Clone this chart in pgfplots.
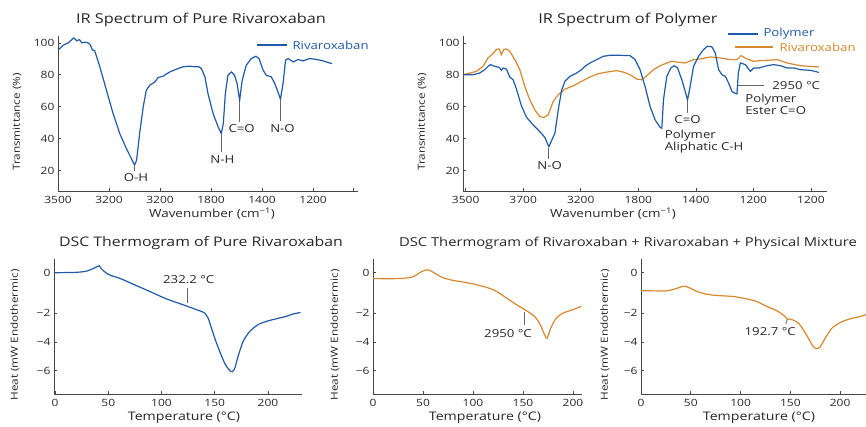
\documentclass[border=0pt]{standalone}
\usepackage{pgfplots}
\pgfplotsset{compat=1.18}
\usepackage{fontspec}
\setmainfont{Open Sans}[FakeStretch=1.2]
\definecolor{cblue}{RGB}{31,90,168}
\definecolor{corange}{RGB}{214,136,46}
\definecolor{axgray}{RGB}{70,70,70}
\tikzset{annline/.style={black!60, line width=0.8pt},
  ann/.style={font=\fontsize{11}{11.5}\selectfont, text=black!85}}
\pgfplotsset{
  base/.style={scale only axis, anchor=south west,
    axis x line*=bottom, axis y line*=left,
    axis line style={axgray, line width=0.7pt, -},
    tick style={axgray, line width=0.6pt},
    major tick length=3pt, tick align=inside,
    ticklabel style={font=\fontsize{10}{12}\selectfont, text=black!85},
    xticklabel style={yshift=-2pt},
    xtick pos=bottom, ytick pos=left},
  ir/.style={base, height=155pt, ymin=7.2, ymax=104.3,
    ytick={20,40,60,80,100}, yticklabels={20,40,60,80,100}},
  dsc/.style={base, height=135pt,
    y coord trafo/.code={\pgfmathparse{##1+0.4*max(##1+2,0)}},
    y coord inv trafo/.code={\pgfmathparse{##1-(0.4/1.4)*max(##1+2,0)}},
    ymin=-7.62, ymax=0.68,
    ytick={0,-2,-4,-6}, yticklabels={0,−2,−4,−6},
    xtick={0,50,100,150,200}, xticklabels={0,50,100,150,200}},
}
\newcommand{\ttl}{\fontsize{13.6}{16}\selectfont}
\newcommand{\xlab}{\fontsize{11.2}{13}\selectfont}
\newcommand{\tlab}{\fontsize{11.8}{13}\selectfont}
\newcommand{\ylab}{\fontsize{9.8}{11}\selectfont}
\newcommand{\lgd}{\fontsize{11}{12}\selectfont}
\begin{document}
\begin{tikzpicture}
\path[use as bounding box] (0pt,0pt) rectangle (866pt,426pt);

% ---------- Panel 1: IR pure ----------
\begin{axis}[ir, at={(58pt,235pt)}, width=300pt, xmin=0, xmax=5.88,
  xtick={0,1,2,3,4,5,5.78}, xticklabels={3500,3200,3200,1800,1400,1200,{}}]
\addplot[cblue, line width=1.2pt] coordinates {
(0,95.4)(0.1,98.5)(0.2,100)(0.26,101.7)(0.31,103.1)(0.37,101.3)(0.42,102)(0.47,100)(0.52,100.4)(0.59,100)(0.63,99)(0.67,95.8)(0.72,95)(0.82,85)(0.95,70.3)(1.08,55.7)(1.21,43.2)(1.34,33.8)(1.47,25.4)(1.50,23.5)(1.54,26.4)(1.6,43.2)(1.67,59.9)(1.73,70.3)(1.8,73.5)(1.9,75.5)(1.96,78.3)(2.06,79.1)(2.19,81.8)(2.32,83.5)(2.45,85)(2.58,85.4)(2.68,85)(2.76,85)(2.81,83.9)(2.88,78.7)(2.94,68.2)(3.04,55.7)(3.14,47.3)(3.2,43.2)(3.24,49.4)(3.28,68.2)(3.33,79.7)(3.4,81.8)(3.46,79.7)(3.51,74.5)(3.56,64)(3.61,76.6)(3.69,86)(3.79,90.2)(3.88,91.6)(3.94,90.2)(4.02,82.9)(4.08,79.7)(4.18,78.7)(4.25,74.5)(4.31,69.3)(4.36,64.7)(4.41,74.5)(4.46,89.1)(4.51,90.2)(4.61,88.1)(4.71,89.6)(4.8,88.7)(4.93,90.2)(5.07,89.6)(5.2,88.7)(5.29,87.7)(5.37,87)
};
\draw[annline] (axis cs:1.5,23) -- (axis cs:1.5,19.5);
\node[ann] at (axis cs:1.53,15.5) {O-H};
\draw[annline] (axis cs:3.2,42) -- (axis cs:3.2,31.5);
\node[ann] at (axis cs:3.22,27) {N-H};
\draw[annline] (axis cs:3.56,63) -- (axis cs:3.56,50.5);
\node[ann] at (axis cs:3.6,46) {C=O};
\draw[annline] (axis cs:4.36,63.5) -- (axis cs:4.36,51);
\node[ann] at (axis cs:4.4,46.5) {N-O};
\end{axis}

% ---------- Panel 2: IR polymer ----------
\begin{axis}[ir, at={(463pt,235pt)}, width=364pt, xmin=-0.046, xmax=6.28,
  xtick={0,1,2,3,4,5,6}, xticklabels={3500,3700,3200,1800,1400,1200,1200}]
\addplot[corange, line width=1.2pt] coordinates {
(-0.046,80.05)(0.186,82.15)(0.302,85.3)(0.389,90.55)(0.476,93.3)(0.534,95.8)(0.581,96.2)(0.621,92.65)(0.662,95.8)(0.709,96.2)(0.767,94.75)(0.854,89.5)(0.941,83.2)(1.028,72.7)(1.115,64.3)(1.202,58.0)(1.289,53.8)(1.359,53.2)(1.434,54.9)(1.521,63.3)(1.609,67.5)(1.725,71.0)(1.870,73.1)(2.015,75.9)(2.160,78.6)(2.305,80.7)(2.451,81.7)(2.625,82.6)(2.741,81.7)(2.857,80.05)(2.973,77.3)(3.060,76.9)(3.148,79.4)(3.264,83.2)(3.380,85.7)(3.496,87.4)(3.583,88.5)(3.699,87.8)(3.815,87.4)(3.961,89.5)(4.077,89.9)(4.251,91.2)(4.425,90.55)(4.599,89.5)(4.715,89.5)(4.785,92.0)(4.890,89.9)(5.006,88.45)(5.122,88.9)(5.238,89.1)(5.412,89.5)(5.587,87.4)(5.819,85.7)(6.138,84.9)
};
\addplot[cblue, line width=1.2pt] coordinates {
(-0.046,80.05)(0.128,80.05)(0.244,81.1)(0.331,83.2)(0.389,85.3)(0.430,86.35)(0.505,85.3)(0.581,84.7)(0.621,82.8)(0.650,84.25)(0.709,83.6)(0.767,78.6)(0.825,76.9)(0.883,71.0)(0.970,60.5)(1.057,53.4)(1.173,48.6)(1.289,44.4)(1.376,40.8)(1.446,34.9)(1.492,38.7)(1.551,43.3)(1.609,58.0)(1.667,70.2)(1.725,75.9)(1.812,79.0)(1.928,81.1)(2.015,83.2)(2.073,85.3)(2.160,87.4)(2.276,89.5)(2.393,91.6)(2.509,92.2)(2.683,92.2)(2.857,92.0)(2.944,89.5)(3.031,83.2)(3.118,72.7)(3.206,60.1)(3.293,51.7)(3.380,47.1)(3.409,46.5)(3.438,64.3)(3.496,79.0)(3.566,84.3)(3.624,85.7)(3.682,84.3)(3.757,76.9)(3.815,69.6)(3.856,64.3)(3.891,70.6)(3.961,85.3)(4.048,91.6)(4.135,95.8)(4.204,97.9)(4.280,97.5)(4.338,93.7)(4.396,83.2)(4.454,80.05)(4.512,79.0)(4.570,74.8)(4.628,69.6)(4.675,68.5)(4.715,68.1)(4.739,81.1)(4.774,87.4)(4.861,86.35)(4.948,82.15)(5.006,84.25)(5.093,84.25)(5.238,85.7)(5.354,86.35)(5.470,85.7)(5.587,84.25)(5.703,84.25)(5.819,83.2)(5.993,82.8)(6.138,81.5)
};
\draw[annline] (axis cs:1.446,34) -- (axis cs:1.446,27);
\node[ann] at (axis cs:1.46,23) {N-O};
\node[ann, anchor=west, align=left] at (axis cs:3.40,38) {Polymer\\Aliphatic C-H};
\draw[annline] (axis cs:3.856,63.5) -- (axis cs:3.856,56);
\node[ann] at (axis cs:3.856,52) {C=O};
\draw[annline] (axis cs:4.74,73.1) -- (axis cs:5.18,73.1);
\node[ann, anchor=west] at (axis cs:5.27,73.1) {2950 °C};
\node[ann, anchor=west, align=left] at (axis cs:4.80,61.6) {Polymer\\Ester C=O};
\end{axis}

% ---------- Panel 3: DSC pure ----------
\begin{axis}[dsc, at={(54pt,32pt)}, width=248pt, xmin=-1, xmax=232]
\addplot[cblue, line width=1.2pt, smooth, tension=0.4] coordinates {
(0,0)(20.3,0.02)(29.7,0.08)(35.9,0.21)(39.7,0.31)(41.5,0.34)(43.8,0.18)(48.4,-0.03)(53.1,-0.15)(60.9,-0.28)(73.4,-0.57)(89,-0.93)(104.7,-1.30)(120.3,-1.59)(135.9,-1.89)(140.6,-2.0)(143.8,-2.35)(145.9,-2.81)(150,-3.74)(154.7,-4.67)(159.4,-5.49)(164.1,-6.0)(166.6,-6.07)(168.8,-5.84)(171.9,-5.02)(176.6,-3.98)(182.8,-3.28)(190.6,-2.81)(198.4,-2.58)(207.8,-2.40)(217.2,-2.23)(223.4,-2.07)(230.6,-1.97)
};
\draw[annline] (axis cs:124.4,-0.77) -- (axis cs:124.4,-1.51);
\node[ann] at (axis cs:125.6,-0.36) {232.2 °C};
\end{axis}

% ---------- Panel 4: DSC mixture ----------
\begin{axis}[dsc, at={(373pt,32pt)}, width=209pt, xmin=0, xmax=209]
\addplot[corange, line width=1.2pt, smooth, tension=0.4] coordinates {
(0,-0.28)(13.3,-0.3)(30,-0.28)(40,-0.2)(46.7,0)(51.7,0.12)(56,0.13)(60,0.03)(65,-0.12)(70,-0.25)(80,-0.38)(96.7,-0.52)(113.3,-0.72)(123.3,-0.92)(133.3,-1.25)(143.3,-1.58)(153.3,-1.88)(161.7,-2.24)(167.3,-2.82)(171.7,-3.53)(174,-3.76)(176,-3.41)(178.3,-2.95)(183.3,-2.35)(190,-2.0)(200,-1.83)(208.3,-1.67)
};
\draw[annline] (axis cs:151.7,-1.95) -- (axis cs:151.7,-2.82);
\node[ann] at (axis cs:135,-3.41) {2950 °C};
\end{axis}

% ---------- Panel 5: DSC physical mixture ----------
\begin{axis}[dsc, at={(641pt,32pt)}, width=225pt, xmin=0, xmax=226]
\addplot[corange, line width=1.2pt, smooth, tension=0.4] coordinates {
(0,-0.89)(12.7,-0.9)(26.1,-0.9)(34.4,-0.8)(41.1,-0.69)(44.5,-0.67)(49.5,-0.77)(56.2,-0.93)(66.2,-1.07)(76.3,-1.13)(93,-1.18)(106.4,-1.3)(116.4,-1.43)(126.4,-1.67)(136.5,-1.89)(144.8,-2.24)(146.5,-2.4)(151.5,-2.45)(158.2,-2.71)(163.2,-3.18)(168.2,-3.76)(173.2,-4.35)(176.6,-4.47)(179.9,-4.35)(184.9,-3.76)(191.6,-3.06)(200,-2.66)(210,-2.4)(220,-2.24)(226,-2.12)
};
\draw[annline] (axis cs:147,-2.42) -- (axis cs:145.5,-2.76);
\node[ann] at (axis cs:129.8,-3.3) {192.7 °C};
\end{axis}

% ---------- Titles ----------
\node[text=black!85] at (201pt,406pt) {\ttl IR Spectrum of Pure Rivaroxaban};
\node[text=black!85] at (628pt,406pt) {\ttl IR Spectrum of Polymer};
\node[text=black!85] at (201pt,183pt) {\fontsize{13.2}{16}\selectfont DSC Thermogram of Pure Rivaroxaban};
\node[text=black!85] at (628pt,183pt) {\fontsize{12.3}{16}\selectfont DSC Thermogram of Rivaroxaban + Rivaroxaban + Physical Mixture};

% ---------- Axis labels ----------
\node[text=black!85] at (212pt,212pt) {\xlab Wavenumber (cm\textsuperscript{−1})};
\node[text=black!85] at (613pt,212pt) {\xlab Wavenumber (cm\textsuperscript{−1})};
\node[text=black!85] at (184pt,8pt) {\tlab Temperature (°C)};
\node[text=black!85] at (485pt,8pt) {\tlab Temperature (°C)};
\node[text=black!85] at (759pt,8pt) {\tlab Temperature (°C)};
\node[text=black!85, rotate=90] at (17pt,304pt) {\ylab Transmittance (\%)};
\node[text=black!85, rotate=90] at (422pt,304pt) {\ylab Transmittance (\%)};
\node[text=black!85, rotate=90] at (15pt,91pt) {\ylab Heat (mW Endothermic)};
\node[text=black!85, rotate=90] at (335pt,91pt) {\ylab Heat (mW Endothermic)};
\node[text=black!85, rotate=90] at (605pt,91pt) {\ylab Heat (mW Endothermic)};

% ---------- Legends ----------
\draw[cblue, line width=1.2pt] (257pt,381pt) -- (287pt,381pt);
\node[anchor=west, text=cblue] at (289pt,381pt) {\lgd Rivaroxaban};
\draw[cblue, line width=1.2pt] (728pt,392pt) -- (758pt,392pt);
\node[anchor=west, text=cblue] at (760pt,392pt) {\lgd Polymer};
\draw[corange, line width=1.2pt] (735pt,379pt) -- (773pt,379pt);
\node[anchor=west, text=corange] at (776pt,379pt) {\lgd Rivaroxaban};
\end{tikzpicture}
\end{document}
